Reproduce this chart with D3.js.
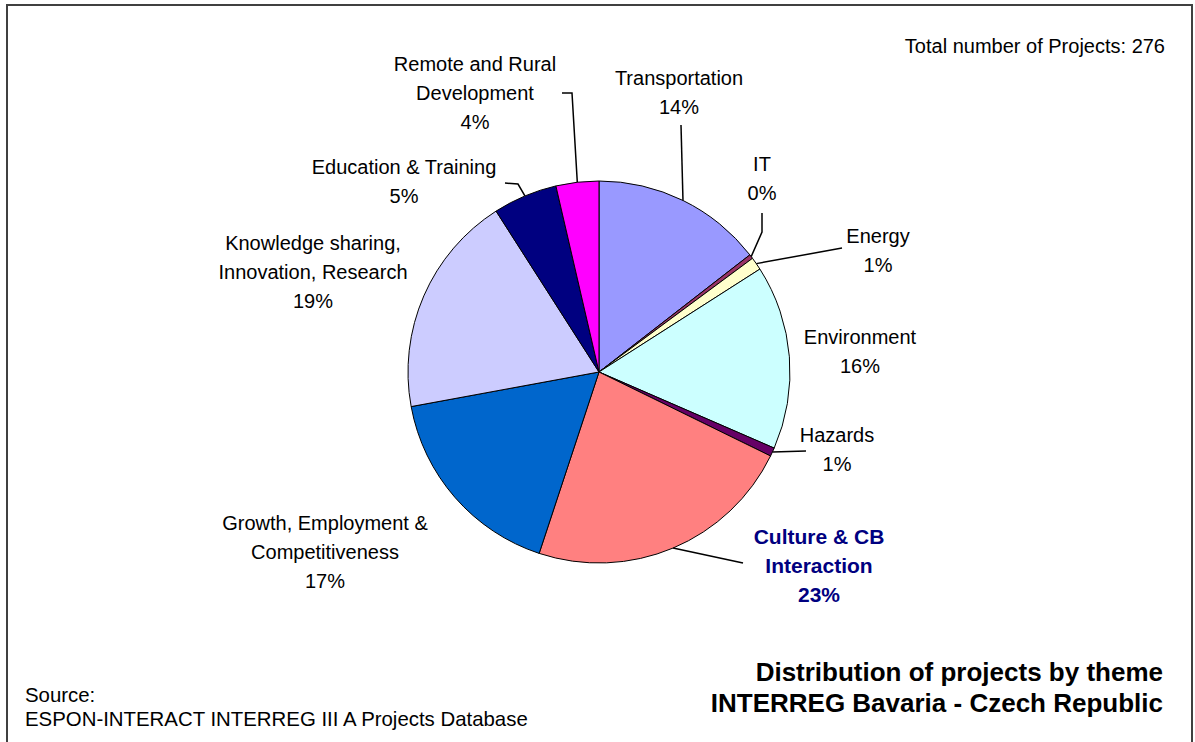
<!DOCTYPE html>
<html>
<head>
<meta charset="utf-8">
<script src="https://cdn.jsdelivr.net/npm/d3@7"></script>
<style>
  html, body { margin: 0; padding: 0; background: #ffffff; }
  svg { display: block; }
  text { font-family: Arial, "Liberation Sans", sans-serif; }
</style>
</head>
<body>
<svg id="chart" width="1195" height="742"></svg>
<script>
// ---------- DATA ----------
const categories = [
  "Transportation", "IT", "Energy", "Environment", "Hazards",
  "Culture & CB Interaction", "Growth, Employment & Competitiveness",
  "Knowledge sharing, Innovation, Research", "Education & Training",
  "Remote and Rural Development"
];
const projectCounts = [40, 1, 3, 43, 2, 63, 47, 52, 15, 10];
const labelLines = [
  ["Transportation"], ["IT"], ["Energy"], ["Environment"], ["Hazards"],
  ["Culture & CB", "Interaction"], ["Growth, Employment &", "Competitiveness"],
  ["Knowledge sharing,", "Innovation, Research"], ["Education & Training"],
  ["Remote and Rural", "Development"]
];
const titleLines = ["Distribution of projects by theme", "INTERREG Bavaria - Czech Republic"];
const sourceLines = ["Source:", "ESPON-INTERACT INTERREG III A Projects Database"];
const totalLabelPrefix = "Total number of Projects: ";

// ---------- STYLE / LAYOUT ----------
const sliceColors = ["#9999FF", "#993366", "#FFFFCC", "#CCFFFF", "#660066",
                     "#FF8080", "#0066CC", "#CCCCFF", "#000080", "#FF00FF"];
const highlightIndex = 5;
const cx = 599, cy = 372, radius = 191;
const lineH = 29;
// label anchor (first line centre) relative to pie centre
const labelOffsets = [[80,-294],[163,-208],[279,-136],[261,-35],[238,63],
                      [220,165],[-274,151],[-286,-129],[-195,-205],[-124,-308]];
// leader line start points (relative to pie centre); null = no leader
const leaderStarts = [
  [[82,-247]], [[163,-159],[163,-140]], [[243,-124]], null, [[207,79]],
  [[144,191]], null, null, [[-94,-189],[-81,-188]], [[-37,-279],[-27,-279]]
];

// ---------- DRAW ----------
const svg = d3.select("#chart");

// frame
svg.append("rect")
  .attr("x", 7).attr("y", 5).attr("width", 1185).attr("height", 760)
  .attr("fill", "#ffffff").attr("stroke", "#404040").attr("stroke-width", 2);

const total = d3.sum(projectCounts);
const pie = d3.pie().sort(null).value(d => d)(projectCounts);
const arc = d3.arc().innerRadius(0).outerRadius(radius);

const g = svg.append("g").attr("transform", `translate(${cx},${cy})`);

g.selectAll("path.slice").data(pie).join("path")
  .attr("class", "slice")
  .attr("d", arc)
  .attr("fill", (d, i) => sliceColors[i])
  .attr("stroke", "#000000")
  .attr("stroke-width", 1)
  .attr("stroke-linejoin", "round");

// leader lines
const line = d3.line();
pie.forEach((d, i) => {
  if (!leaderStarts[i]) return;
  const a = (d.startAngle + d.endAngle) / 2;
  const end = [radius * Math.sin(a), -radius * Math.cos(a)];
  g.append("path")
    .attr("d", line(leaderStarts[i].concat([end])))
    .attr("fill", "none")
    .attr("stroke", "#000000")
    .attr("stroke-width", 1.5);
});

// labels
pie.forEach((d, i) => {
  const pct = Math.round(d.value / total * 100) + "%";
  const lines = labelLines[i].concat([pct]);
  const hi = i === highlightIndex;
  const t = g.append("text")
    .attr("text-anchor", "middle")
    .attr("font-size", hi ? 21 : 20)
    .attr("font-weight", hi ? "bold" : "normal")
    .attr("fill", hi ? "#000080" : "#000000");
  lines.forEach((s, k) => {
    t.append("tspan")
      .attr("x", labelOffsets[i][0])
      .attr("y", labelOffsets[i][1] + k * lineH)
      .attr("dy", "0.35em")
      .text(s);
  });
});

// total
svg.append("text")
  .attr("x", 1165).attr("y", 46).attr("dy", "0.35em")
  .attr("text-anchor", "end").attr("font-size", 20)
  .text(totalLabelPrefix + total);

// title
const tt = svg.append("text").attr("text-anchor", "end")
  .attr("font-size", 26).attr("font-weight", "bold");
titleLines.forEach((s, k) => {
  tt.append("tspan").attr("x", 1163).attr("y", 672 + k * 31).attr("dy", "0.35em").text(s);
});

// source
const st = svg.append("text").attr("font-size", 20.4);
sourceLines.forEach((s, k) => {
  st.append("tspan").attr("x", 25).attr("y", 695 + k * 24).attr("dy", "0.35em").text(s);
});
</script>
</body>
</html>
